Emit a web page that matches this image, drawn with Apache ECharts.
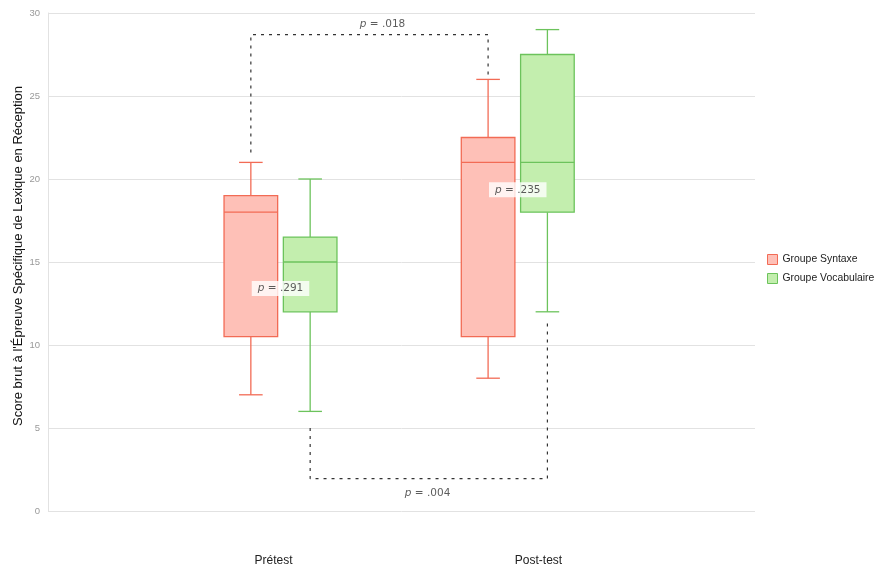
<!DOCTYPE html>
<html>
<head>
<meta charset="utf-8">
<script src="https://cdn.jsdelivr.net/npm/echarts@6/dist/echarts.min.js"></script>
<style>
  html, body { margin: 0; padding: 0; background: #fff; }
  #chart { width: 877px; height: 568px; }
</style>
</head>
<body>
<div id="chart"></div>
<script>
// Score brut, boîtes à moustaches par groupe et par temps de mesure
const categories = ['Prétest', 'Post-test'];
const groups = ['Groupe Syntaxe', 'Groupe Vocabulaire'];
// [min, Q1, médiane, Q3, max] pour chaque temps de mesure
const syntaxeStats = [
  [7, 10.5, 18, 19, 21],
  [8, 10.5, 21, 22.5, 26]
];
const vocabulaireStats = [
  [6, 12, 15, 16.5, 20],
  [12, 18, 21, 27.5, 29]
];
const yTicks = [0, 5, 10, 15, 20, 25, 30];
// Comparaisons intra-temps : [valeur p, valeur de y du libellé]
const pIntra = [['.291', 13.4], ['.235', 19.35]];
// Comparaisons prétest / post-test pour chaque groupe
const pSyntaxe = { p: '.018', from: 21.6, top: 28.7, to: 26.3 };
const pVocab = { p: '.004', from: 5.0, bottom: 1.95, to: 11.6 };

const strokeColors = ['#f26b55', '#6cc35c'];
const fillColors = ['#fec0b7', '#c3eeae'];
const groupOffset = 0.125;   // décalage des boîtes autour de chaque catégorie
const boxHalf = 0.113;       // demi-largeur d'une boîte

function boxItems(stats, offset) {
  return stats.map((s, i) => [i + 1 + offset].concat(s));
}

function renderBox(params, api) {
  const x = api.value(0);
  const vals = [1, 2, 3, 4, 5].map(d => api.value(d));
  const c = vals.map(v => api.coord([x, v]));
  const left = api.coord([x - boxHalf, 0])[0];
  const right = api.coord([x + boxHalf, 0])[0];
  const cx = c[0][0];
  const capHalf = (right - left) * 0.22;
  const idx = params.seriesIndex;
  const stroke = strokeColors[idx];
  const lineStyle = { stroke: stroke, lineWidth: 1.3 };
  return {
    type: 'group',
    children: [
      { type: 'line', shape: { x1: cx, y1: c[3][1], x2: cx, y2: c[4][1] }, style: lineStyle },
      { type: 'line', shape: { x1: cx, y1: c[0][1], x2: cx, y2: c[1][1] }, style: lineStyle },
      { type: 'line', shape: { x1: cx - capHalf, y1: c[4][1], x2: cx + capHalf, y2: c[4][1] }, style: lineStyle },
      { type: 'line', shape: { x1: cx - capHalf, y1: c[0][1], x2: cx + capHalf, y2: c[0][1] }, style: lineStyle },
      { type: 'rect', shape: { x: left, y: c[3][1], width: right - left, height: c[1][1] - c[3][1] },
        style: { fill: fillColors[idx], stroke: stroke, lineWidth: 1.3 } },
      { type: 'line', shape: { x1: left, y1: c[2][1], x2: right, y2: c[2][1] }, style: lineStyle }
    ]
  };
}

// Crochets pointillés entre prétest et post-test
function bracketLines() {
  const dash = { color: '#333', type: [3, 5], width: 1.2 };
  const s = pSyntaxe, v = pVocab;
  const xs1 = 1 - groupOffset, xs2 = 2 - groupOffset;
  const xv1 = 1 + groupOffset, xv2 = 2 + groupOffset;
  return [
    [[xs1, s.from], [xs1, s.top], [xs2, s.top], [xs2, s.to]],
    [[xv1, v.from], [xv1, v.bottom], [xv2, v.bottom], [xv2, v.to]]
  ].map(pts => ({
    type: 'line', xAxisIndex: 0, yAxisIndex: 0, data: pts, symbol: 'none',
    lineStyle: dash, silent: true, z: 1
  }));
}

const pRich = {
  i: { fontFamily: 'DejaVu Sans', fontStyle: 'italic', fontSize: 10.5, color: '#333' },
  n: { fontFamily: 'DejaVu Sans', fontSize: 10.5, color: '#333' }
};
const pText = p => '{i|p}{n| = ' + p + '}';

const chart = echarts.init(document.getElementById('chart'));
chart.setOption({
  animation: false,
  textStyle: { fontFamily: 'Liberation Sans' },
  grid: [
    { left: 48, right: 122, top: 13, bottom: 57 },
    { left: 141, width: 530, top: 13, bottom: 57 }
  ],
  legend: {
    orient: 'vertical', left: 767, top: 254, itemWidth: 10, itemHeight: 10, itemGap: 8,
    padding: 0,
    textStyle: { fontSize: 10.4, color: '#222' },
    data: groups.map((g, i) => ({
      name: g, icon: 'rect',
      itemStyle: { color: fillColors[i], borderColor: strokeColors[i], borderWidth: 1 }
    }))
  },
  xAxis: [
    { type: 'value', gridIndex: 0, min: 0.02, max: 3, show: false },
    {
      type: 'category', gridIndex: 1, data: categories,
      axisLine: { show: false }, axisTick: { show: false },
      axisLabel: { margin: 44, fontSize: 12, color: '#222' }
    }
  ],
  yAxis: [
    {
      type: 'value', gridIndex: 0, min: yTicks[0], max: yTicks[yTicks.length - 1], interval: 5,
      axisLine: { show: true, lineStyle: { color: '#e2e2e2' } },
      axisTick: { show: false },
      axisLabel: { color: '#999', fontSize: 9.5, margin: 8 },
      splitLine: { lineStyle: { color: '#e2e2e2' } }
    },
    { type: 'value', gridIndex: 1, show: false }
  ],
  graphic: [{
    type: 'text', rotation: Math.PI / 2,
    x: 18, y: 256,
    style: {
      text: "Score brut à l'Épreuve Spécifique de Lexique en Réception",
      font: '13px "Liberation Sans"', fill: '#111', align: 'center', verticalAlign: 'middle'
    }
  }],
  series: [
    {
      name: groups[0], type: 'custom', xAxisIndex: 0, yAxisIndex: 0,
      renderItem: renderBox, data: boxItems(syntaxeStats, -groupOffset),
      itemStyle: { color: fillColors[0], borderColor: strokeColors[0] }, z: 2
    },
    {
      name: groups[1], type: 'custom', xAxisIndex: 0, yAxisIndex: 0,
      renderItem: renderBox, data: boxItems(vocabulaireStats, groupOffset),
      itemStyle: { color: fillColors[1], borderColor: strokeColors[1] }, z: 2
    },
    ...bracketLines(),
    {
      type: 'scatter', xAxisIndex: 0, yAxisIndex: 0, symbolSize: 0, silent: true, z: 5,
      data: [
        { value: [1, pIntra[0][1]], name: pIntra[0][0] },
        { value: [2, pIntra[1][1]], name: pIntra[1][0] }
      ],
      label: {
        show: true, position: 'inside', formatter: p => pText(p.name),
        backgroundColor: '#fff', padding: [2, 6], rich: pRich
      }
    },
    {
      type: 'scatter', xAxisIndex: 0, yAxisIndex: 0, symbolSize: 0, silent: true, z: 5,
      data: [
        { value: [1.43, 29.3], name: pSyntaxe.p },
        { value: [1.62, 1.08], name: pVocab.p }
      ],
      label: { show: true, position: 'inside', formatter: p => pText(p.name), rich: pRich }
    }
  ]
});
</script>
</body>
</html>
